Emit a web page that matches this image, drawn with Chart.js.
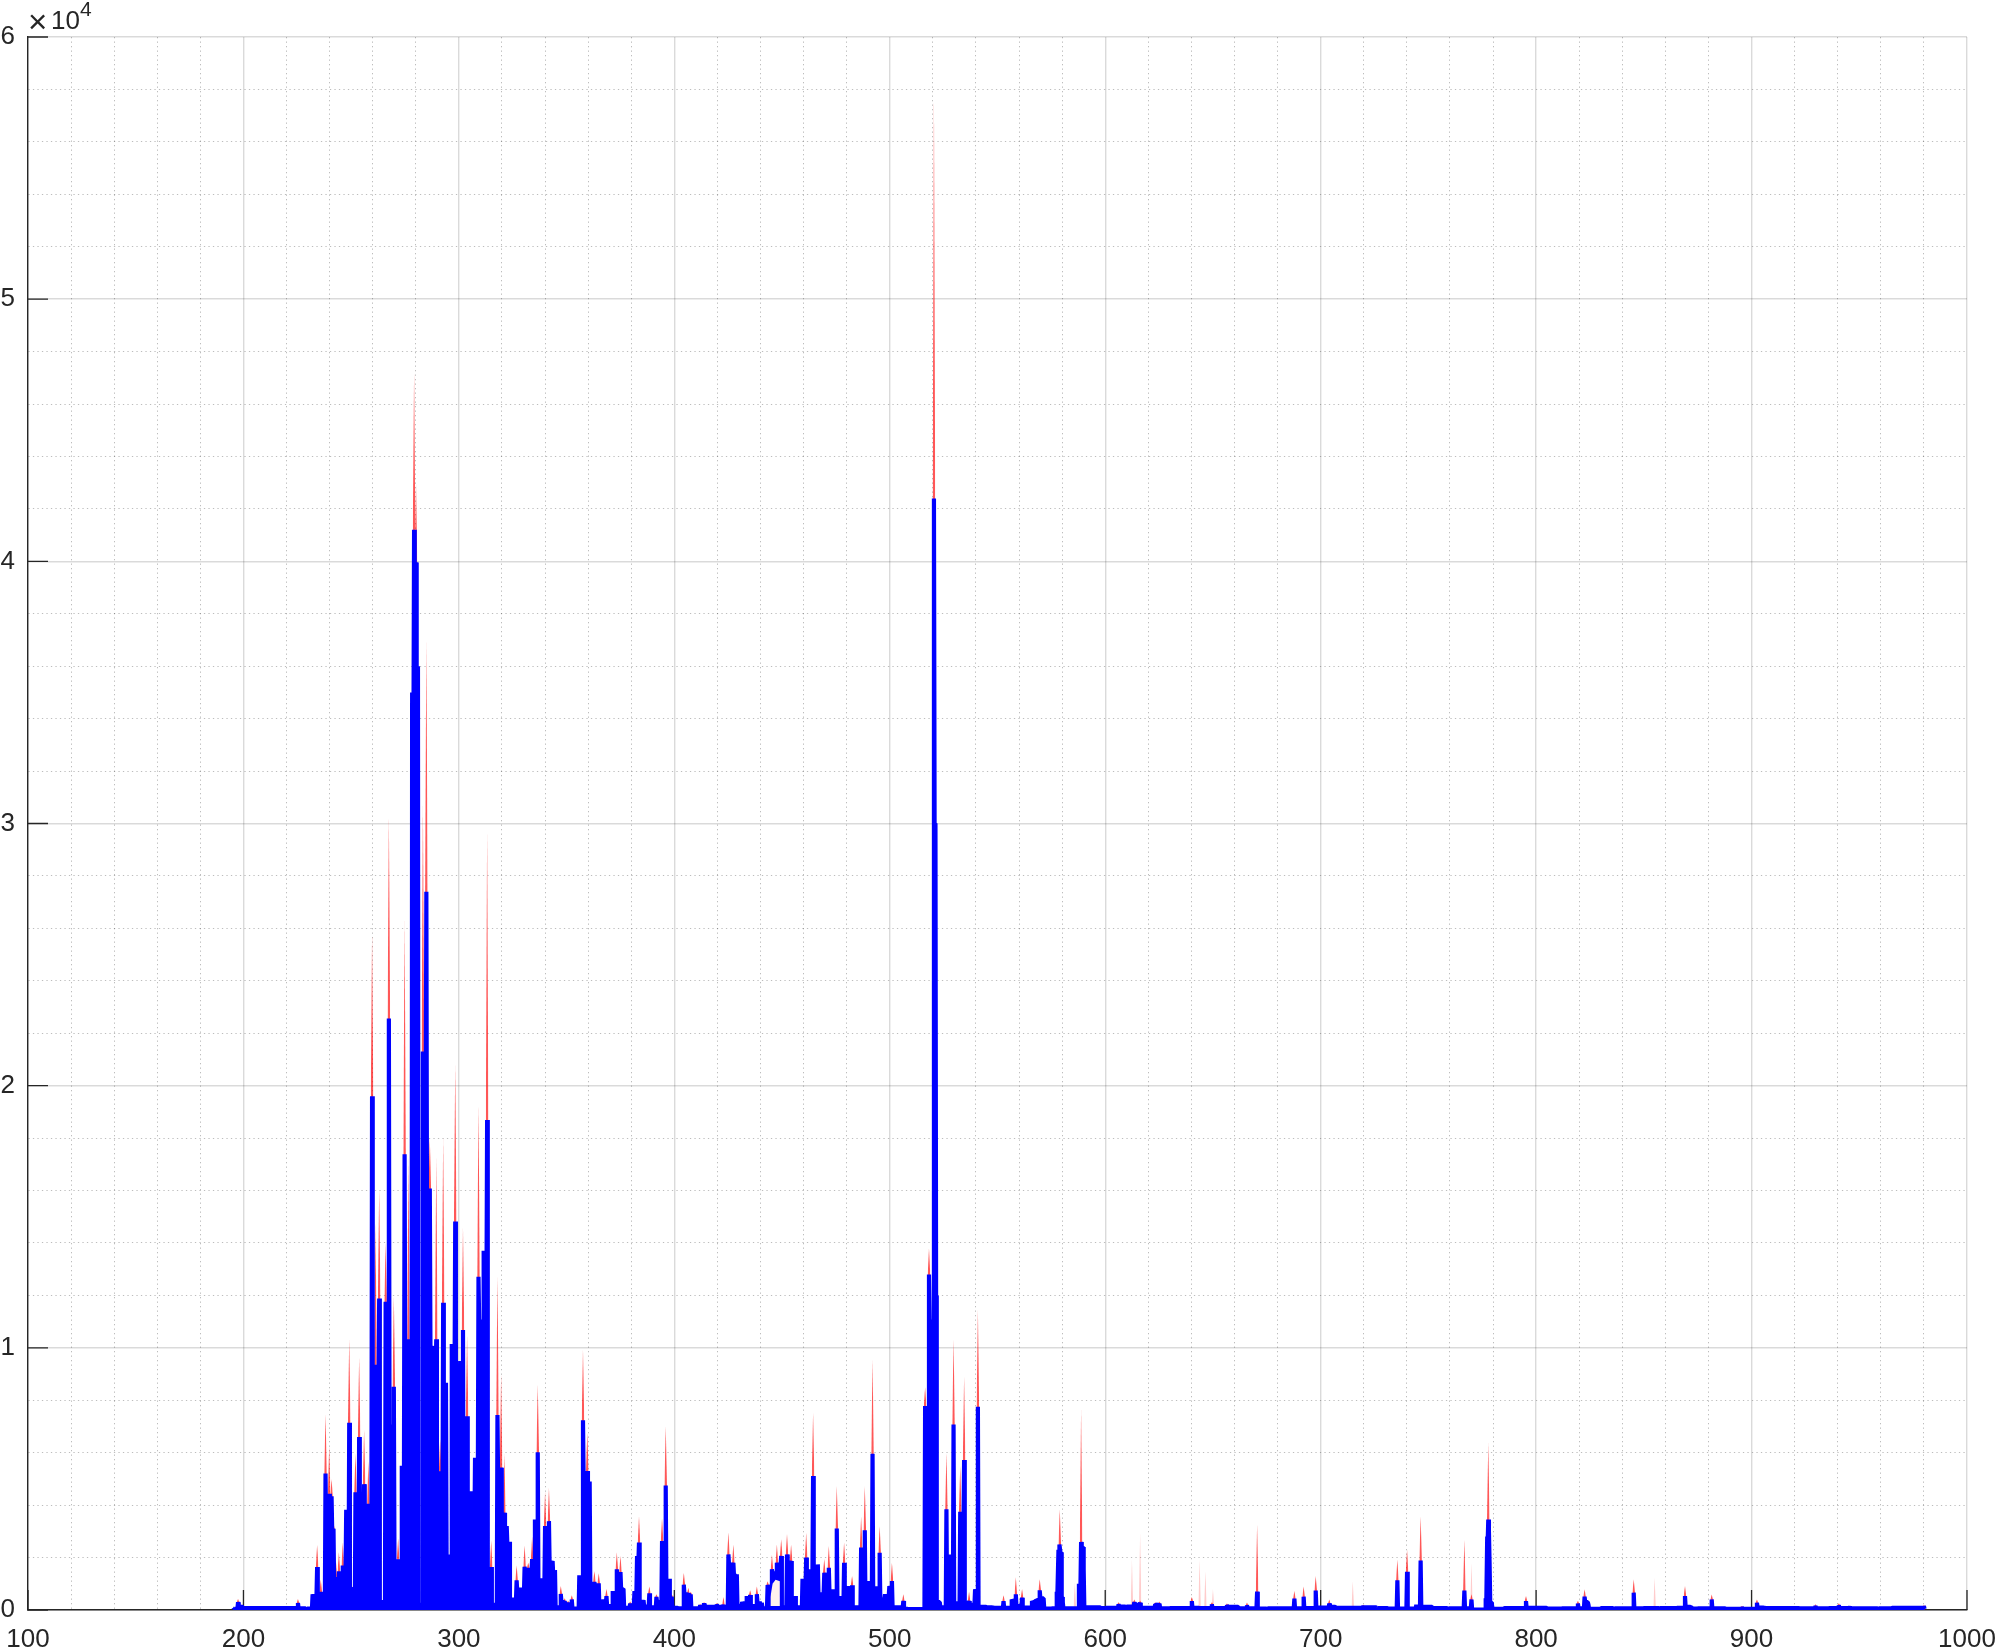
<!DOCTYPE html>
<html lang="en">
<head>
  <meta charset="utf-8" />
  <title>Spectrum</title>
  <style>
    html, body { margin: 0; padding: 0; background: #fff; }
    canvas { display: block; }
  </style>
  <script src="https://cdn.jsdelivr.net/npm/chart.js@4/dist/chart.umd.min.js"></script>
</head>
<body>
  <canvas id="chart" width="1997" height="1651"></canvas>
  <script>
    // one entry per spectral line
    const lineWave = [
      195.5,197.5,199,205,212,218,225.3,229,232.1,234.2,
      235.9,238.1,239.8,240.9,241.8,242.9,244.3,246.1,247.7,249.1,
      250.6,252,253.7,256,258,259.7,261.3,263,266,267.5,
      269.8,271.8,273.5,274.8,276.6,278.3,279.2,280.1,281,283.3,
      284.9,286.5,288.2,289.5,291.3,292.7,294,295,296.7,298.3,
      300.6,301.9,303.8,305.7,307.5,309.1,311.5,313.1,315,317.9,
      319.6,321.1,322.2,323.4,326.8,328.7,330.5,332.2,334,335.3,
      336.6,338.4,340,341.8,343.5,344.6,347.3,349.1,350.7,352.4,
      355.9,357.6,359.6,360.7,362.9,364.9,367.1,368.5,371.4,373.3,
      375,376.4,379.5,381.5,382.7,383.6,385.7,388.4,391.7,394.3,
      396,397.6,398.8,401.5,404.4,406.5,407.6,412,413.8,419.7,
      422.8,425.1,427.4,429,431.5,433.6,435.2,438.3,440.6,443.3,
      445.3,447.6,449.6,452.3,454.2,456.1,459.5,461.2,462.7,464.4,
      466.6,469.6,471.7,473.6,475.4,477,478.8,480.5,482.5,486.7,
      488.4,490.5,492,493.7,495.3,497.8,499.8,501,506.3,508.7,
      516.4,518.2,520.5,521.5,523.5,526.3,528,529.6,532.7,534.5,
      536.8,539.6,540.9,545,548,552.8,556.6,558.5,561.4,566,
      567.8,569.6,571.4,575,577.5,578.3,578.9,579.5,580.3,587.8,
      588.8,590,598,600,606.2,609.5,613.5,616.2,620.5,623.2,
      625.2,630,634,640.2,644,649.5,653,656.5,662,665.8,
      670.5,675,680,687.8,692.1,697.7,704,707,712,719.8,
      726,731,735.6,740.1,744.4,746.4,752,759,766.7,770,
      776.6,777.3,777.8,778.4,779.5,785,790,795.3,800,805,
      812,819.4,822.5,824.3,830,836,845.3,850,857,865,
      869.1,872,875,881.5,888,895.5,902.5,906,915,922,
      929.7,936,940.5,945.7,950,958.6,965,970,975,980
    ];
    // height of the blue trace at each line
    const lineBlue = [
      60,300,180,90,95,100,270,80,600,1640,
      700,5210,4430,4340,3100,1260,1480,1700,3825,7140,
      800,4490,6600,4800,4050,19600,9350,11880,11760,22560,
      8520,1930,5500,17380,10330,35000,41200,39960,36000,21300,
      27400,16080,10060,10330,5290,11720,8670,2120,10150,14820,
      9500,10680,7390,4530,5810,12710,13700,18690,1640,7440,
      5430,3710,3200,2600,1130,860,1650,1600,1940,3450,
      6020,1200,3200,3390,1870,1520,610,340,280,400,
      1320,7240,5300,4900,1070,1020,400,530,720,1550,
      1450,810,250,720,2060,2570,370,635,500,2630,
      4750,1190,510,80,965,635,600,180,250,215,
      200,2120,1800,1360,300,530,570,600,280,950,
      1550,1800,2060,2120,1870,530,1190,2000,1550,5110,
      1740,1420,1610,790,3110,530,1800,915,940,2380,
      3040,1100,5960,900,2185,600,915,1105,343,80,
      7780,12800,42400,12000,100,3840,2120,7080,3750,5720,
      340,790,7750,100,110,340,400,600,470,340,
      400,750,440,50,700,2300,2500,2200,300,1000,
      2590,1550,60,110,215,150,300,280,90,215,
      240,70,80,340,100,215,80,190,70,180,
      700,80,90,430,510,740,250,120,80,150,
      90,70,1130,1460,200,1890,70,90,740,400,
      450,2800,3450,1800,200,50,90,340,90,80,
      50,250,510,200,60,90,660,60,80,90,
      530,130,50,400,60,120,280,100,70,70,
      150,70,180,130,60,100,70,90,80,150
    ];
    // tip of the red trace at each line, 0 where it stays hidden under the blue
    const lineRed = [
      0,420,200,0,0,0,420,0,0,2500,
      1150,7470,6260,5000,3300,1900,2200,2575,0,10330,
      900,5960,9650,6870,5660,25800,14800,16050,14000,30300,
      11990,2730,0,26300,17260,0,47200,43000,0,30700,
      37000,18000,0,17300,6500,18000,0,0,0,20800,
      0,14600,10480,0,0,19300,0,29700,2650,12740,
      9000,5960,0,0,1700,0,2470,1800,2800,0,
      8600,0,4500,4650,0,0,915,450,350,560,
      0,9930,6760,0,1490,1400,0,800,0,2190,
      2060,0,320,0,0,3580,0,900,600,3500,
      7010,0,600,0,1420,850,700,220,300,260,
      500,2950,2500,0,0,0,750,900,0,1100,
      2100,2500,2700,2900,2500,0,0,2950,0,7520,
      0,1950,2440,0,4730,0,2570,0,1300,3580,
      4730,0,9550,0,3200,0,0,1800,600,0,
      8500,13800,57800,0,0,6000,0,10320,5490,8920,
      700,0,11460,0,0,560,0,1250,800,0,
      0,1170,0,0,0,0,3840,0,0,0,
      7650,0,0,0,300,200,400,350,0,300,
      320,0,0,500,0,300,0,250,0,290,
      3270,0,0,725,900,1300,400,0,0,200,
      0,0,1930,2310,0,3580,0,0,2690,600,
      0,0,6380,0,0,0,0,530,0,0,
      0,350,790,0,0,0,1170,0,0,0,
      915,0,0,590,0,150,400,0,0,0,
      220,0,260,160,0,120,0,0,0,180
    ];
    // level the blue trace drops to after each line
    const lineFloor = [
      40,110,70,70,75,75,60,50,500,500,
      300,3000,3800,3000,900,1000,1200,1400,1200,800,
      150,1500,2500,3500,3000,8000,8500,300,9000,7000,
      1800,1500,5000,9000,400,33000,38000,35000,200,19000,
      15000,10000,9000,600,4000,8000,1800,800,9000,8500,
      9000,1000,4000,3000,5000,11000,12000,1200,200,5000,
      3600,3000,2500,400,700,650,1400,1400,1700,2500,
      1100,1000,2800,1800,1300,100,300,200,180,50,
      1200,5000,4800,900,900,150,250,150,600,1300,
      800,80,150,650,1800,300,130,100,300,2200,
      1000,400,80,60,600,500,60,120,120,120,
      60,1700,1300,150,250,400,150,250,60,850,
      1400,1700,100,1800,60,100,900,1300,1300,1000,
      600,1100,700,500,300,200,800,500,100,2000,
      400,700,700,500,400,500,800,100,40,30,
      6500,11000,30000,300,100,200,150,250,3000,250,
      200,700,120,100,80,80,350,150,90,300,
      380,440,50,60,650,2200,2200,500,60,900,
      2400,100,70,80,130,130,200,80,80,200,
      60,70,70,80,70,70,70,120,60,60,
      50,60,60,60,70,90,120,80,80,100,
      70,50,50,50,120,120,70,60,60,20,
      400,2700,3000,300,40,70,70,80,80,50,
      60,60,300,40,70,60,60,70,70,80,
      120,50,60,60,40,40,90,70,70,60,
      60,70,70,60,60,60,80,80,80,40
    ];

    // pale red lines with no blue peak of their own
    const faintWave = [585.9, 612.4, 616.2, 643.8, 646.5, 650, 714.9, 770, 855];
    const faintTop = [1040, 1930, 2950, 1930, 1480, 800, 1100, 1800, 1230];

    // pale gap under the blue hump near 447 nm
    const hollowWave = [444.6, 445.6, 447, 449];
    const hollowTop = [500, 1000, 1150, 1100];

    const xTicks = [100, 200, 300, 400, 500, 600, 700, 800, 900, 1000];
    const yTicks = [0, 10000, 20000, 30000, 40000, 50000, 60000];

    const inkColor = '#262626';
    const spikeHalf = 0.3;   // half width of a blue spike in nm
    const redHalf = 0.6;     // half width of a red spike where it leaves the blue

    // blue trace: up to each line top and back down to the floor
    function bluePoints() {
      const pts = [];
      lineWave.forEach((w, i) => {
        const before = i === 0 ? lineFloor[0] : lineFloor[i - 1];
        pts.push({ x: w - spikeHalf, y: before });
        pts.push({ x: w, y: lineBlue[i] });
        pts.push({ x: w + spikeHalf, y: lineFloor[i] });
      });
      return pts;
    }

    // red trace: thin spikes sitting on top of the blue, broken up by gaps
    function redPoints() {
      const pts = [];
      lineWave.forEach((w, i) => {
        if (lineRed[i] <= lineBlue[i]) return;
        pts.push({ x: w - redHalf, y: lineBlue[i] });
        pts.push({ x: w, y: lineRed[i] });
        pts.push({ x: w + redHalf, y: lineBlue[i] });
        pts.push({ x: w + redHalf, y: null });
      });
      return pts;
    }

    function faintPoints() {
      const pts = [];
      faintWave.forEach((w, i) => {
        pts.push({ x: w - redHalf, y: 100 });
        pts.push({ x: w, y: faintTop[i] });
        pts.push({ x: w + redHalf, y: 100 });
        pts.push({ x: w + redHalf, y: null });
      });
      return pts;
    }

    // inward tick marks like the original axes
    const insideTicks = {
      id: 'insideTicks',
      beforeDatasetsDraw(chart) {
        const { ctx, chartArea, scales } = chart;
        ctx.save();
        ctx.strokeStyle = inkColor;
        ctx.lineWidth = 1.3;
        ctx.beginPath();
        xTicks.forEach(v => {
          const px = scales.x.getPixelForValue(v);
          ctx.moveTo(px, chartArea.bottom);
          ctx.lineTo(px, chartArea.bottom - 20);
        });
        yTicks.forEach(v => {
          const py = scales.y.getPixelForValue(v);
          ctx.moveTo(chartArea.left, py);
          ctx.lineTo(chartArea.left + 20, py);
        });
        ctx.stroke();
        ctx.restore();
      },
      afterDraw(chart) {
        // exponent above the y axis
        const { ctx } = chart;
        ctx.save();
        ctx.fillStyle = inkColor;
        ctx.textBaseline = 'alphabetic';
        ctx.textAlign = 'left';
        ctx.font = '33px "Liberation Sans"';
        ctx.fillText('\u00d7', 28, 33);
        ctx.font = '26px "Liberation Sans"';
        ctx.fillText('10', 51, 29);
        ctx.font = '21px "Liberation Sans"';
        ctx.fillText('4', 80, 16);
        ctx.restore();
      }
    };

    const isMajor = (value, step) => value % step === 0;

    function noLabelMargins(scale) {
      scale.paddingLeft = 0;
      scale.paddingRight = 0;
      scale.paddingTop = 0;
      scale.paddingBottom = 0;
    }

    new Chart(document.getElementById('chart'), {
      type: 'line',
      plugins: [insideTicks],
      data: {
        datasets: [
          { label: 'hollow', data: hollowWave.map((w, i) => ({ x: w, y: hollowTop[i] })), borderWidth: 0, fill: { value: 150 }, backgroundColor: '#fff1ee', pointRadius: 0 },
          { label: 'blue', data: bluePoints(), borderColor: '#0000ff', borderWidth: 4.2, borderJoinStyle: 'bevel', borderCapStyle: 'butt', fill: 'origin', backgroundColor: '#0000ff', pointRadius: 0, tension: 0 },
          { label: 'red', data: redPoints(), borderWidth: 0, fill: 'origin', backgroundColor: 'rgba(255,0,0,0.66)', pointRadius: 0, spanGaps: false },
          { label: 'faint', data: faintPoints(), borderWidth: 0, fill: 'origin', backgroundColor: 'rgba(255,0,0,0.2)', pointRadius: 0, spanGaps: false }
        ]
      },
      options: {
        responsive: false,
        animation: false,
        parsing: { xAxisKey: 'x', yAxisKey: 'y' },
        layout: { padding: { top: 37, right: 30, left: 0, bottom: 0 } },
        plugins: { legend: { display: false }, tooltip: { enabled: false }, title: { display: false } },
        scales: {
          x: {
            type: 'linear',
            min: 100,
            max: 1000,
            afterFit(scale) { scale.height = 41; noLabelMargins(scale); },
            ticks: {
              stepSize: 20,
              autoSkip: false,
              maxRotation: 0,
              padding: 14,
              color: inkColor,
              font: { family: 'Liberation Sans', size: 26 },
              callback: v => (isMajor(v, 100) ? String(v) : '')
            },
            grid: {
              drawTicks: false,
              color: c => (isMajor(c.tick.value, 100) ? 'rgba(38,38,38,0.17)' : 'rgba(38,38,38,0.3)'),
              lineWidth: c => (isMajor(c.tick.value, 100) ? 1.4 : 1)
            },
            border: {
              display: true,
              color: inkColor,
              width: 1.4,
              dash: c => (isMajor(c.tick.value, 100) ? [] : [1.3, 3.2])
            }
          },
          y: {
            type: 'linear',
            min: 0,
            max: 60000,
            afterFit(scale) { scale.width = 28; noLabelMargins(scale); },
            ticks: {
              stepSize: 2000,
              autoSkip: false,
              padding: 13,
              color: inkColor,
              font: { family: 'Liberation Sans', size: 26 },
              callback: v => (isMajor(v, 10000) ? String(v / 10000) : '')
            },
            grid: {
              drawTicks: false,
              color: c => (isMajor(c.tick.value, 10000) ? 'rgba(38,38,38,0.17)' : 'rgba(38,38,38,0.3)'),
              lineWidth: c => (isMajor(c.tick.value, 10000) ? 1.4 : 1)
            },
            border: {
              display: true,
              color: inkColor,
              width: 1.4,
              dash: c => (isMajor(c.tick.value, 10000) ? [] : [1.3, 3.2])
            }
          }
        }
      }
    });
  </script>
</body>
</html>
